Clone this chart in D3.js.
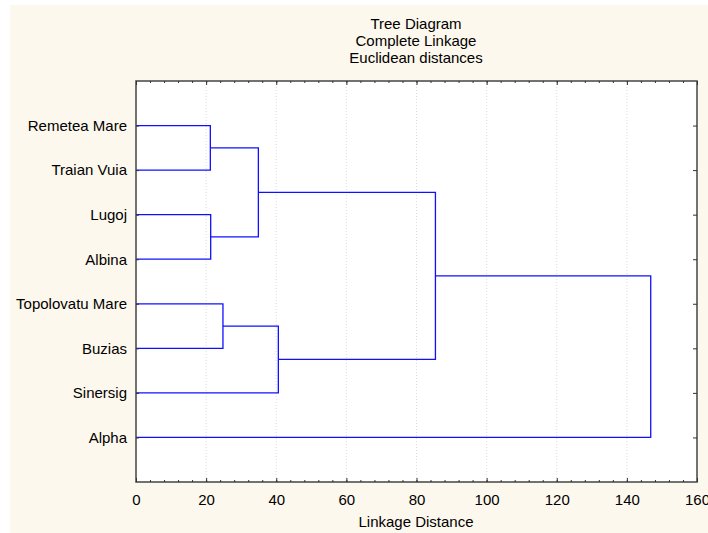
<!DOCTYPE html>
<html>
<head>
<meta charset="utf-8">
<script src="https://cdn.jsdelivr.net/npm/d3@7"></script>
<style>
body { margin: 0; background: #fff; }
text { font-family: "Liberation Sans", Arial, sans-serif; }
</style>
</head>
<body>
<svg id="chart" width="708" height="533"></svg>
<script>
// leaves, top to bottom
const leaves = ["Remetea Mare", "Traian Vuia", "Lugoj", "Albina", "Topolovatu Mare", "Buzias", "Sinersig", "Alpha"];
// merges: children are leaf index (0..7) or cluster id (8 + merge index)
const mergeA = [0, 2, 4, 8, 10, 11, 13];
const mergeB = [1, 3, 5, 9, 6, 12, 7];
const mergeDist = [21.2, 21.3, 24.8, 34.9, 40.6, 85.4, 146.8];
const xTicks = [0, 20, 40, 60, 80, 100, 120, 140, 160];
const titleLines = ["Tree Diagram", "Complete Linkage", "Euclidean distances"];

const svg = d3.select("#chart");
const pLeft = 136, pRight = 697, pTop = 81, pBottom = 482;
const fs = "15px";

svg.append("rect").attr("x", 10).attr("y", 5).attr("width", 698).attr("height", 528).attr("fill", "#fdf8ed");
svg.append("rect").attr("x", pLeft).attr("y", pTop).attr("width", pRight - pLeft).attr("height", pBottom - pTop).attr("fill", "#fff");

const x = d3.scaleLinear().domain([0, 160]).range([pLeft, pRight]);
const y = d3.scalePoint().domain(d3.range(-1, leaves.length + 1)).range([pTop, pBottom]);

// grid
svg.append("g").selectAll("line").data(xTicks.slice(1, -1)).enter().append("line")
  .attr("x1", d => x(d)).attr("x2", d => x(d)).attr("y1", pTop).attr("y2", pBottom)
  .attr("stroke", "#ddd").attr("stroke-dasharray", "1,2");

// titles
svg.append("g").selectAll("text").data(titleLines).enter().append("text")
  .attr("x", 416).attr("y", (d, i) => 29 + i * 17)
  .attr("text-anchor", "middle").style("font-size", fs).text(d => d);

// dendrogram
const nodes = leaves.map((d, i) => ({ x: 0, y: y(i) }));
const g = svg.append("g").attr("fill", "none").attr("stroke", "#1010ff").attr("stroke-width", 1.3);
mergeA.forEach((a, i) => {
  const na = nodes[a], nb = nodes[mergeB[i]];
  const h = mergeDist[i];
  g.append("path").attr("d",
    "M" + x(na.x) + "," + na.y + "H" + x(h) + "V" + nb.y + "H" + x(nb.x));
  nodes.push({ x: h, y: (na.y + nb.y) / 2 });
});

// frame
svg.append("rect").attr("x", pLeft).attr("y", pTop).attr("width", pRight - pLeft).attr("height", pBottom - pTop)
  .attr("fill", "none").attr("stroke", "#444").attr("stroke-width", 1.5);

// x axis bottom and top, ticks inward
const minor = d3.range(0, 161, 4);
svg.append("g").attr("transform", "translate(0," + pBottom + ")")
  .call(d3.axisBottom(x).tickValues(xTicks).tickSize(-4).tickPadding(12))
  .call(a => a.select(".domain").remove())
  .call(a => a.selectAll("text").style("font-size", fs).attr("fill", "#000").style("font-family", "Liberation Sans, Arial"));
svg.append("g").attr("transform", "translate(0," + pBottom + ")")
  .call(d3.axisBottom(x).tickValues(minor).tickSize(-2).tickFormat(""))
  .call(a => a.select(".domain").remove());
svg.append("g").attr("transform", "translate(0," + pTop + ")")
  .call(d3.axisTop(x).tickValues(xTicks).tickSize(-4).tickFormat(""))
  .call(a => a.select(".domain").remove());
svg.append("g").attr("transform", "translate(0," + pTop + ")")
  .call(d3.axisTop(x).tickValues(minor).tickSize(-2).tickFormat(""))
  .call(a => a.select(".domain").remove());

// y axes
const yAxisScale = d3.scalePoint().domain(leaves).range([y(0), y(leaves.length - 1)]);
svg.append("g").attr("transform", "translate(" + pLeft + ",0)")
  .call(d3.axisLeft(yAxisScale).tickSize(-3).tickPadding(9))
  .call(a => a.select(".domain").remove())
  .call(a => a.selectAll("text").style("font-size", fs).attr("fill", "#000").style("font-family", "Liberation Sans, Arial"));
svg.append("g").attr("transform", "translate(" + pRight + ",0)")
  .call(d3.axisRight(yAxisScale).tickSize(-4).tickFormat(""))
  .call(a => a.select(".domain").remove());

svg.selectAll(".tick line").attr("stroke", "#333");

svg.append("text").attr("x", 416).attr("y", 527).attr("text-anchor", "middle")
  .style("font-size", fs).text("Linkage Distance");
</script>
</body>
</html>
